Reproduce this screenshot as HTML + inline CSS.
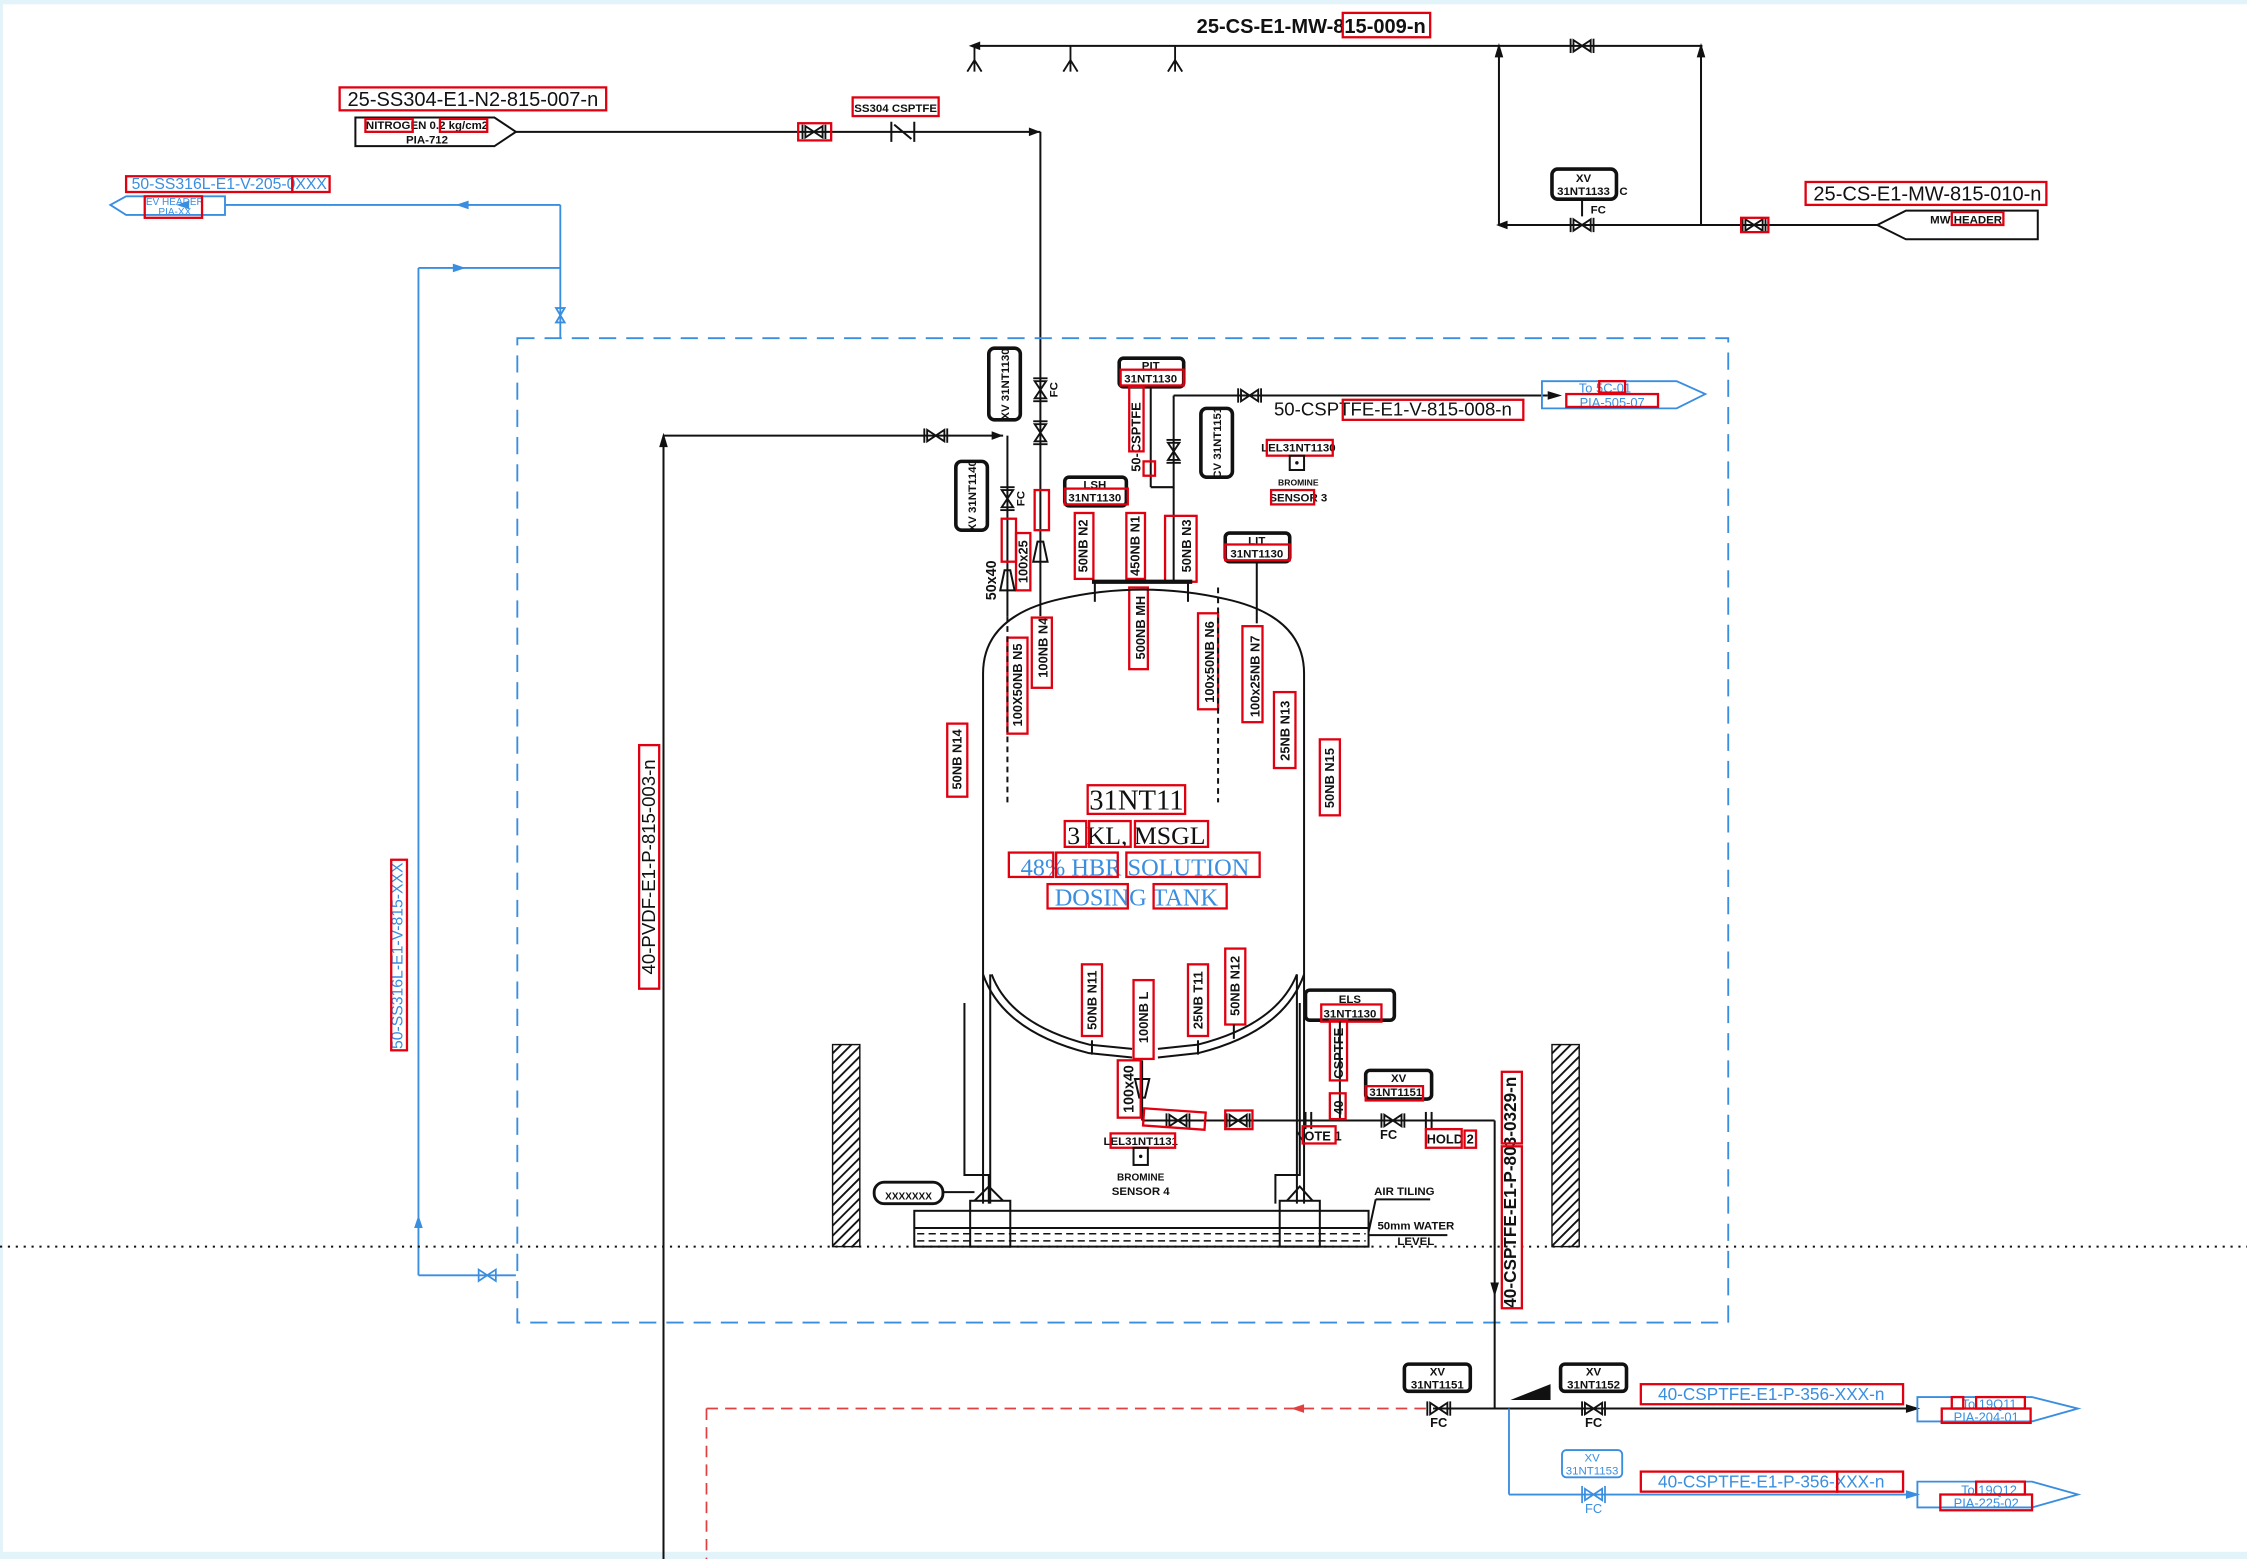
<!DOCTYPE html>
<html><head><meta charset="utf-8"><style>
html,body{margin:0;padding:0;background:#fff}
svg{display:block}
text{font-family:"Liberation Sans",sans-serif}
.k{stroke:#111;fill:none;stroke-width:1.4}
.b{stroke:#3a8ee0;fill:none;stroke-width:1.3}
.r{stroke:#e00010;fill:none;stroke-width:1.6}
.t{font-weight:bold;fill:#111}
.bt{fill:#3a8ee0}
</style></head><body>
<svg width="2247" height="1559" viewBox="0 0 1568 1088" preserveAspectRatio="none" xmlns="http://www.w3.org/2000/svg">
<defs>
<g id="vh"><path d="M-6,-4 L6,4 L6,-4 L-6,4 Z" fill="none" stroke="#111" stroke-width="1.3"/><line x1="-8" y1="-5" x2="-8" y2="5" stroke="#111" stroke-width="1.3"/><line x1="8" y1="-5" x2="8" y2="5" stroke="#111" stroke-width="1.3"/></g>
<g id="vv"><path d="M-4,-6 L4,6 L-4,6 L4,-6 Z" fill="none" stroke="#111" stroke-width="1.3"/><line x1="-5" y1="-8" x2="5" y2="-8" stroke="#111" stroke-width="1.3"/><line x1="-5" y1="8" x2="5" y2="8" stroke="#111" stroke-width="1.3"/></g>
<g id="vb"><path d="M-6,-4 L6,4 L6,-4 L-6,4 Z" fill="none" stroke="#3a8ee0" stroke-width="1.2"/></g>
<g id="fork"><line x1="0" y1="0" x2="0" y2="12" stroke="#111" stroke-width="1.3"/><path d="M-5,18 L0,10 L5,18 M0,10 L0,18" stroke="#111" fill="none" stroke-width="1.3"/></g>
<pattern id="hatch" width="5" height="5" patternUnits="userSpaceOnUse" patternTransform="rotate(45)"><rect width="5" height="5" fill="#fff"/><line x1="0" y1="0" x2="0" y2="5" stroke="#111" stroke-width="2.6"/></pattern>
</defs>
<rect x="0" y="0" width="1568" height="3" fill="#e3f3fa"/>
<rect x="0" y="1083" width="1568" height="5" fill="#e3f3fa"/>
<rect x="0" y="0" width="2" height="1088" fill="#e3f3fa"/>

<line class="k" x1="680" y1="32" x2="1188" y2="32"/>
<path d="M676,32 L684,29 L684,35Z" fill="#111"/>
<use href="#fork" x="680" y="32"/><use href="#fork" x="747" y="32"/><use href="#fork" x="820" y="32"/>
<use href="#vh" x="1104" y="32"/>
<line class="k" x1="1046" y1="32" x2="1046" y2="157"/><line class="k" x1="1187" y1="32" x2="1187" y2="157"/>
<path d="M1046,30 L1043,40 L1049,40Z M1187,30 L1184,40 L1190,40Z" fill="#111"/>
<line class="k" x1="1046" y1="157" x2="1310" y2="157"/>
<path d="M1044,157 L1052,154 L1052,160Z" fill="#111"/>
<use href="#vh" x="1104" y="157"/>
<rect x="1083" y="118" width="45" height="21" rx="4" fill="none" stroke="#111" stroke-width="2.5"/>
<text x="1105" y="127" class="t" font-size="8" text-anchor="middle">XV</text>
<text x="1105" y="136" class="t" font-size="8" text-anchor="middle">31NT1133</text>
<text x="1130" y="136" class="t" font-size="8">C</text>
<line class="k" x1="1104" y1="139" x2="1104" y2="151"/>
<text x="1110" y="149" class="t" font-size="8">FC</text>
<use href="#vh" x="1224" y="157"/><rect class="r" x="1215" y="152" width="19" height="10"/>
<path class="k" d="M1310,157 L1330,147 L1422,147 L1422,167 L1330,167 Z" stroke-width="1.8"/>
<text x="1372" y="156" class="t" font-size="8" text-anchor="middle">MW HEADER</text>
<rect class="r" x="1362" y="148" width="36" height="9"/>
<text x="915" y="23" font-size="14" class="t" text-anchor="middle" font-weight="normal">25-CS-E1-MW-815-009-n</text>
<rect class="r" x="937" y="9" width="61" height="17"/>
<text x="1345" y="140" font-size="14" text-anchor="middle" fill="#111">25-CS-E1-MW-815-010-n</text>
<rect class="r" x="1260" y="127" width="168" height="16"/>

<path class="k" d="M248,82 L345,82 L360,92 L345,102 L248,102 Z" stroke-width="1.8"/>
<text x="298" y="90" class="t" font-size="8" text-anchor="middle">NITROGEN 0.2 kg/cm2</text>
<text x="298" y="100" class="t" font-size="8" text-anchor="middle">PIA-712</text>
<rect class="r" x="255" y="83" width="33" height="9"/><rect class="r" x="307" y="83" width="33" height="9"/>
<text x="330" y="74" font-size="14" text-anchor="middle" fill="#111">25-SS304-E1-N2-815-007-n</text>
<rect class="r" x="237" y="61" width="186" height="16"/>
<line class="k" x1="360" y1="92" x2="726" y2="92"/>
<path d="M726,92 L718,89 L718,95Z" fill="#111"/>
<use href="#vh" x="568" y="92"/><rect class="r" x="557" y="86" width="23" height="12"/>
<path class="k" d="M622,85 L622,99 M638,85 L638,99 M624,87 L636,97" stroke-width="1.5"/>
<text x="625" y="78" class="t" font-size="8" text-anchor="middle">SS304 CSPTFE</text>
<rect class="r" x="595" y="68" width="60" height="13"/>
<line class="k" x1="726" y1="92" x2="726" y2="430"/>

<path class="b" d="M77,143 L88,137 L157,137 L157,150 L88,150 Z"/>
<text x="122" y="143" class="bt" font-size="7" text-anchor="middle">EV HEADER</text>
<text x="122" y="150" class="bt" font-size="7" text-anchor="middle">PIA-XX</text>
<rect class="r" x="101" y="137" width="40" height="15"/>
<text x="160" y="132" class="bt" font-size="11" text-anchor="middle">50-SS316L-E1-V-205-0XXX</text>
<rect class="r" x="88" y="123" width="116" height="11"/><rect class="r" x="204" y="123" width="26" height="11"/>
<line class="b" x1="157" y1="143" x2="391" y2="143"/>
<path d="M123,143 L132,140 L132,146Z M318,143 L327,140 L327,146Z" fill="#3a8ee0"/>
<line class="b" x1="391" y1="143" x2="391" y2="236"/>
<path d="M388,215 L394,225 L388,225 L394,215Z" class="b"/>
<line class="b" x1="292" y1="187" x2="391" y2="187"/>
<path d="M325,187 L316,184 L316,190Z" fill="#3a8ee0"/>
<line class="b" x1="292" y1="187" x2="292" y2="890"/>
<path d="M292,848 L289,857 L295,857Z" fill="#3a8ee0"/>
<line class="b" x1="292" y1="890" x2="360" y2="890"/>
<use href="#vb" x="340" y="890"/>
<text transform="translate(281,667) rotate(-90)" class="bt" font-size="11" text-anchor="middle">50-SS316L-E1-V-815-XXX</text>
<rect class="r" x="273" y="600" width="11" height="133"/>

<rect x="361" y="236" width="845" height="687" fill="none" stroke="#3a8ee0" stroke-width="1.3" stroke-dasharray="12,7"/>

<line class="k" x1="463" y1="304" x2="463" y2="1088"/>
<path d="M463,302 L460,312 L466,312Z" fill="#111"/>
<line class="k" x1="463" y1="304" x2="700" y2="304"/>
<use href="#vh" x="653" y="304"/>
<path d="M700,304 L692,301 L692,307Z" fill="#111"/>
<line class="k" x1="703" y1="304" x2="703" y2="430"/>
<text transform="translate(457,605) rotate(-90)" font-size="13" text-anchor="middle" fill="#111">40-PVDF-E1-P-815-003-n</text>
<rect class="r" x="446" y="520" width="14" height="170"/>

<rect x="690" y="243" width="22" height="50" rx="4" fill="none" stroke="#111" stroke-width="2.5"/>
<text transform="translate(704,268) rotate(-90)" class="t" font-size="8" text-anchor="middle">XV 31NT1130</text>
<use href="#vv" x="726" y="272"/><text transform="translate(738,272) rotate(-90)" class="t" font-size="8" text-anchor="middle">FC</text>
<use href="#vv" x="726" y="302"/>
<rect x="667" y="322" width="22" height="48" rx="4" fill="none" stroke="#111" stroke-width="2.5"/>
<text transform="translate(681,346) rotate(-90)" class="t" font-size="8" text-anchor="middle">XV 31NT1140</text>
<use href="#vv" x="703" y="348"/><text transform="translate(715,348) rotate(-90)" class="t" font-size="8" text-anchor="middle">FC</text>
<rect class="r" x="699" y="362" width="10" height="30"/><rect class="r" x="722" y="342" width="10" height="28"/>
<rect class="r" x="709" y="372" width="10" height="40"/>
<text transform="translate(717,392) rotate(-90)" class="t" font-size="9" text-anchor="middle">100x25</text>
<path class="k" d="M698,412 L708,412 L705,398 L701,398Z"/>
<path class="k" d="M721,392 L731,392 L728,378 L724,378Z"/>
<text transform="translate(695,405) rotate(-90)" class="t" font-size="10" text-anchor="middle">50x40</text>

<rect x="781" y="250" width="45" height="20" rx="3" fill="none" stroke="#111" stroke-width="2.5"/>
<text x="803" y="258" class="t" font-size="8" text-anchor="middle">PIT</text>
<text x="803" y="267" class="t" font-size="8" text-anchor="middle">31NT1130</text>
<rect class="r" x="782" y="258" width="44" height="11"/>
<line class="k" x1="803" y1="270" x2="803" y2="340"/>
<text transform="translate(796,305) rotate(-90)" class="t" font-size="9" text-anchor="middle">50-CSPTFE</text>
<rect class="r" x="788" y="270" width="10" height="45"/><rect class="r" x="798" y="322" width="8" height="10"/>
<line class="k" x1="803" y1="340" x2="819" y2="340"/>
<line class="k" x1="819" y1="276" x2="819" y2="405"/>
<use href="#vv" x="819" y="315"/>
<line class="k" x1="819" y1="276" x2="1080" y2="276"/>
<use href="#vh" x="872" y="276"/>
<path d="M1090,276 L1080,273 L1080,279Z" fill="#111"/>
<rect x="838" y="285" width="22" height="48" rx="4" fill="none" stroke="#111" stroke-width="2.5"/>
<text transform="translate(852,309) rotate(-90)" class="t" font-size="8" text-anchor="middle">CV 31NT1151</text>
<text x="972" y="290" font-size="13" text-anchor="middle" fill="#111">50-CSPTFE-E1-V-815-008-n</text>
<rect class="r" x="937" y="279" width="126" height="14"/>
<path class="b" d="M1076,266 L1170,266 L1190,275 L1170,285 L1076,285 Z"/>
<text x="1120" y="274" class="bt" font-size="9" text-anchor="middle">To 5C-01</text>
<text x="1125" y="284" class="bt" font-size="9" text-anchor="middle">PIA-505-07</text>
<rect class="r" x="1116" y="266" width="18" height="8"/><rect class="r" x="1093" y="275" width="64" height="9"/>
<text x="906" y="315" class="t" font-size="8" text-anchor="middle">LEL31NT1130</text>
<rect class="r" x="884" y="307" width="46" height="11"/>
<rect class="k" x="900" y="318" width="10" height="10"/><circle cx="905" cy="323" r="1.2" fill="#111"/>
<text x="906" y="339" class="t" font-size="6" text-anchor="middle">BROMINE</text>
<text x="906" y="350" class="t" font-size="8" text-anchor="middle">SENSOR 3</text>
<rect class="r" x="887" y="342" width="30" height="10"/>

<rect x="743" y="333" width="43" height="20" rx="3" fill="none" stroke="#111" stroke-width="2.5"/>
<text x="764" y="341" class="t" font-size="8" text-anchor="middle">LSH</text>
<text x="764" y="350" class="t" font-size="8" text-anchor="middle">31NT1130</text>
<rect class="r" x="743" y="341" width="44" height="11"/>
<rect x="855" y="372" width="45" height="20" rx="3" fill="none" stroke="#111" stroke-width="2.5"/>
<text x="877" y="380" class="t" font-size="8" text-anchor="middle">LIT</text>
<text x="877" y="389" class="t" font-size="8" text-anchor="middle">31NT1130</text>
<rect class="r" x="855" y="380" width="45" height="11"/>
<line class="k" x1="877" y1="392" x2="877" y2="435"/>
<g font-size="9" class="t" text-anchor="middle">
<text transform="translate(759,381) rotate(-90)">50NB N2</text>
<text transform="translate(795,381) rotate(-90)">450NB N1</text>
<text transform="translate(831,381) rotate(-90)">50NB N3</text>
<text transform="translate(799,438) rotate(-90)">500NB MH</text>
<text transform="translate(731,452) rotate(-90)">100NB N4</text>
<text transform="translate(713,478) rotate(-90)">100X50NB N5</text>
<text transform="translate(847,462) rotate(-90)">100x50NB N6</text>
<text transform="translate(879,472) rotate(-90)">100x25NB N7</text>
<text transform="translate(900,510) rotate(-90)">25NB N13</text>
<text transform="translate(671,530) rotate(-90)">50NB N14</text>
<text transform="translate(931,543) rotate(-90)">50NB N15</text>
<text transform="translate(765,698) rotate(-90)">50NB N11</text>
<text transform="translate(801,710) rotate(-90)">100NB L</text>
<text transform="translate(839,698) rotate(-90)">25NB T11</text>
<text transform="translate(865,688) rotate(-90)">50NB N12</text>
</g>
<g class="r">
<rect x="750" y="358" width="13" height="46"/><rect x="786" y="358" width="13" height="46"/><rect x="813" y="360" width="22" height="46"/>
<rect x="788" y="410" width="13" height="57"/><rect x="720" y="431" width="14" height="49"/><rect x="703" y="445" width="14" height="67"/>
<rect x="836" y="428" width="14" height="67"/><rect x="867" y="437" width="14" height="67"/><rect x="889" y="483" width="15" height="53"/>
<rect x="661" y="505" width="14" height="51"/><rect x="921" y="516" width="14" height="53"/>
<rect x="755" y="673" width="14" height="50"/><rect x="791" y="684" width="14" height="55"/><rect x="829" y="673" width="14" height="50"/><rect x="855" y="662" width="14" height="53"/>
</g>
<line x1="762" y1="406" x2="832" y2="406" stroke="#111" stroke-width="3"/>
<line class="k" x1="764" y1="406" x2="764" y2="420"/><line class="k" x1="829" y1="406" x2="829" y2="420"/>
<line class="k" x1="850" y1="410" x2="850" y2="560" stroke-dasharray="4,3"/>
<line class="k" x1="703" y1="430" x2="703" y2="560" stroke-dasharray="4,3"/>

<path class="k" d="M686,840 L686,470 Q686,430 740,418 Q797,405 855,418 Q910,430 910,470 L910,840"/>
<path class="k" d="M691,840 L691,680 M905,840 L905,680"/>
<path class="k" d="M686,680 Q700,720 760,735 L790,738 M808,738 L836,735 Q896,720 910,680"/>
<path class="k" d="M692,680 Q705,715 760,729 L790,732 M808,732 L836,729 Q891,715 905,680"/>
<path class="k" d="M673,700 L673,820 L690,820 L690,840 M890,840 L890,820 L907,820 L907,700"/>
<text x="793" y="565" style="font-family:'Liberation Serif',serif" font-size="20" text-anchor="middle" fill="#111">31NT11</text>
<text x="793" y="589" style="font-family:'Liberation Serif',serif" font-size="18" text-anchor="middle" fill="#111">3 KL, MSGL</text>
<text x="792" y="611" style="font-family:'Liberation Serif',serif" font-size="17" text-anchor="middle" fill="#3a8ee0">48% HBR SOLUTION</text>
<text x="793" y="632" style="font-family:'Liberation Serif',serif" font-size="17" text-anchor="middle" fill="#3a8ee0">DOSING TANK</text>
<g class="r"><rect x="759" y="548" width="68" height="20"/><rect x="743" y="573" width="15" height="18"/><rect x="760" y="573" width="29" height="18"/><rect x="792" y="573" width="51" height="18"/>
<rect x="704" y="595" width="31" height="17"/><rect x="737" y="595" width="43" height="17"/><rect x="786" y="595" width="93" height="17"/>
<rect x="731" y="617" width="56" height="17"/><rect x="805" y="617" width="51" height="17"/></g>

<line class="k" x1="797" y1="740" x2="797" y2="782"/>
<path class="k" d="M792,753 L802,753 L799,766 L795,766Z"/>
<text transform="translate(791,760) rotate(-90)" class="t" font-size="10" text-anchor="middle">100x40</text>
<rect class="r" x="780" y="740" width="16" height="40"/>
<line class="k" x1="797" y1="782" x2="1043" y2="782"/>
<use href="#vh" x="822" y="782"/><rect class="r" x="798" y="775" width="43" height="12" transform="rotate(4 820 781)"/>
<use href="#vh" x="864" y="782"/><rect class="r" x="855" y="775" width="19" height="13"/>
<line class="k" x1="911" y1="776" x2="911" y2="788"/><line class="k" x1="915" y1="776" x2="915" y2="788"/>
<text x="920" y="796" class="t" font-size="9" text-anchor="middle">NOTE 1</text><rect class="r" x="909" y="786" width="23" height="12"/>
<use href="#vh" x="972" y="782"/><text x="969" y="795" class="t" font-size="9" text-anchor="middle">FC</text>
<line class="k" x1="995" y1="776" x2="995" y2="788"/><line class="k" x1="999" y1="776" x2="999" y2="788"/>
<text x="1012" y="798" class="t" font-size="9" text-anchor="middle">HOLD 2</text><rect class="r" x="995" y="788" width="25" height="13"/><rect class="r" x="1022" y="789" width="8" height="12"/>
<rect x="953" y="747" width="46" height="20" rx="3" fill="none" stroke="#111" stroke-width="2.5"/>
<text x="976" y="755" class="t" font-size="8" text-anchor="middle">XV</text><text x="974" y="765" class="t" font-size="8" text-anchor="middle">31NT1151</text>
<rect class="r" x="953" y="758" width="40" height="10"/>
<rect x="911" y="691" width="62" height="21" rx="3" fill="none" stroke="#111" stroke-width="2.5"/>
<text x="942" y="700" class="t" font-size="8" text-anchor="middle">ELS</text><text x="942" y="710" class="t" font-size="8" text-anchor="middle">31NT1130</text>
<rect class="r" x="922" y="701" width="42" height="12"/>
<line class="k" x1="935" y1="712" x2="935" y2="782"/>
<text transform="translate(937,735) rotate(-90)" class="t" font-size="9" text-anchor="middle">CSPTFE</text>
<rect class="r" x="928" y="712" width="12" height="42"/>
<text transform="translate(937,773) rotate(-90)" class="t" font-size="9" text-anchor="middle">40</text>
<rect class="r" x="928" y="763" width="11" height="18"/>
<text x="796" y="799" class="t" font-size="8" text-anchor="middle">LEL31NT1131</text><rect class="r" x="775" y="791" width="45" height="10"/>
<rect class="k" x="791" y="801" width="10" height="12"/><circle cx="796" cy="807" r="1.2" fill="#111"/>
<text x="796" y="824" class="t" font-size="7" text-anchor="middle">BROMINE</text><text x="796" y="834" class="t" font-size="8" text-anchor="middle">SENSOR 4</text>
<g stroke="#111" stroke-width="1.4"><line x1="762" y1="726" x2="762" y2="736"/><line x1="836" y1="726" x2="836" y2="736"/><line x1="861" y1="715" x2="861" y2="725"/></g>

<rect x="581" y="729" width="19" height="141" fill="url(#hatch)" stroke="#111"/>
<rect x="1083" y="729" width="19" height="141" fill="url(#hatch)" stroke="#111"/>
<rect class="k" x="638" y="845" width="317" height="25" stroke-width="1.8"/>
<line class="k" x1="638" y1="857" x2="955" y2="857"/>
<line x1="640" y1="861" x2="953" y2="861" stroke="#111" stroke-dasharray="5,3"/>
<line x1="640" y1="866" x2="953" y2="866" stroke="#111" stroke-dasharray="5,3"/>
<rect class="k" x="677" y="838" width="28" height="32"/><rect class="k" x="893" y="838" width="28" height="32"/>
<path class="k" d="M680,838 L690,828 L700,838 M898,838 L907,828 L916,838"/>
<rect x="610" y="825" width="48" height="15" rx="7" fill="none" stroke="#111" stroke-width="2"/>
<text x="634" y="837" class="t" font-size="7" text-anchor="middle">XXXXXXX</text>
<line class="k" x1="658" y1="832" x2="680" y2="832"/>
<text x="980" y="834" class="t" font-size="8" text-anchor="middle">AIR TILING</text>
<path class="k" d="M960,837 L998,837 M960,837 L955,860"/>
<text x="988" y="858" class="t" font-size="8" text-anchor="middle">50mm WATER</text><text x="988" y="869" class="t" font-size="8" text-anchor="middle">LEVEL</text>
<line class="k" x1="955" y1="862" x2="1010" y2="862"/>
<line x1="0" y1="870" x2="1568" y2="870" stroke="#111" stroke-width="1.4" stroke-dasharray="1.5,4"/>

<line class="k" x1="1043" y1="782" x2="1043" y2="983"/>
<path d="M1043,905 L1040,895 L1046,895Z" fill="#111"/>
<text transform="translate(1058,832) rotate(-90)" font-size="12" text-anchor="middle" fill="#111" class="t">40-CSPTFE-E1-P-803-0329-n</text>
<rect class="r" x="1048" y="748" width="14" height="50"/><rect class="r" x="1048" y="800" width="14" height="113"/>
<line class="k" x1="1000" y1="983" x2="1338" y2="983" stroke-width="1.8"/>
<path d="M1340,983 L1330,980 L1330,986Z" fill="#111"/>
<line x1="493" y1="983" x2="995" y2="983" stroke="#e04040" stroke-width="1.2" stroke-dasharray="8,5"/>
<line x1="493" y1="983" x2="493" y2="1088" stroke="#e04040" stroke-width="1.2" stroke-dasharray="8,5"/>
<path d="M901,983 L910,980 L910,986Z" fill="#e04040"/>
<use href="#vh" x="1004" y="983"/><text x="1004" y="996" class="t" font-size="9" text-anchor="middle">FC</text>
<use href="#vh" x="1112" y="983"/><text x="1112" y="996" class="t" font-size="9" text-anchor="middle">FC</text>
<rect x="980" y="952" width="46" height="19" rx="3" fill="none" stroke="#111" stroke-width="2.5"/>
<text x="1003" y="960" class="t" font-size="8" text-anchor="middle">XV</text><text x="1003" y="969" class="t" font-size="8" text-anchor="middle">31NT1151</text>
<rect x="1089" y="952" width="46" height="19" rx="3" fill="none" stroke="#111" stroke-width="2.5"/>
<text x="1112" y="960" class="t" font-size="8" text-anchor="middle">XV</text><text x="1112" y="969" class="t" font-size="8" text-anchor="middle">31NT1152</text>
<path d="M1054,977 L1082,977 L1082,966Z" fill="#111"/>
<line class="b" x1="1053" y1="983" x2="1053" y2="1043"/>
<line class="b" x1="1053" y1="1043" x2="1338" y2="1043"/>
<path d="M1340,1043 L1330,1040 L1330,1046Z" fill="#3a8ee0"/>
<g stroke="#3a8ee0" fill="none" stroke-width="1.2"><path d="M1106,1039 L1118,1047 L1118,1039 L1106,1047Z"/><line x1="1104" y1="1037" x2="1104" y2="1049"/><line x1="1120" y1="1037" x2="1120" y2="1049"/></g>
<text x="1112" y="1056" class="bt" font-size="9" text-anchor="middle">FC</text>
<rect class="b" x="1090" y="1012" width="42" height="19" rx="3"/>
<text x="1111" y="1020" class="bt" font-size="8" text-anchor="middle">XV</text><text x="1111" y="1029" class="bt" font-size="8" text-anchor="middle">31NT1153</text>
<text x="1236" y="977" class="bt" font-size="12" text-anchor="middle">40-CSPTFE-E1-P-356-XXX-n</text>
<rect class="r" x="1145" y="966" width="183" height="14"/>
<text x="1236" y="1038" class="bt" font-size="12" text-anchor="middle">40-CSPTFE-E1-P-356-XXX-n</text>
<rect class="r" x="1145" y="1027" width="137" height="14"/><rect class="r" x="1282" y="1027" width="46" height="14"/>
<path class="b" d="M1338,975 L1418,975 L1450,983 L1418,992 L1338,992 Z"/>
<text x="1388" y="983" class="bt" font-size="9" text-anchor="middle">To 19Q11</text><text x="1386" y="992" class="bt" font-size="9" text-anchor="middle">PIA-204-01</text>
<rect class="r" x="1362" y="975" width="8" height="8"/><rect class="r" x="1379" y="975" width="34" height="8"/><rect class="r" x="1355" y="983" width="62" height="10"/>
<path class="b" d="M1338,1034 L1418,1034 L1450,1043 L1418,1052 L1338,1052 Z"/>
<text x="1388" y="1043" class="bt" font-size="9" text-anchor="middle">To 19Q12</text><text x="1386" y="1052" class="bt" font-size="9" text-anchor="middle">PIA-225-02</text>
<rect class="r" x="1379" y="1034" width="34" height="9"/><rect class="r" x="1354" y="1043" width="64" height="11"/>
</svg>
</body></html>
